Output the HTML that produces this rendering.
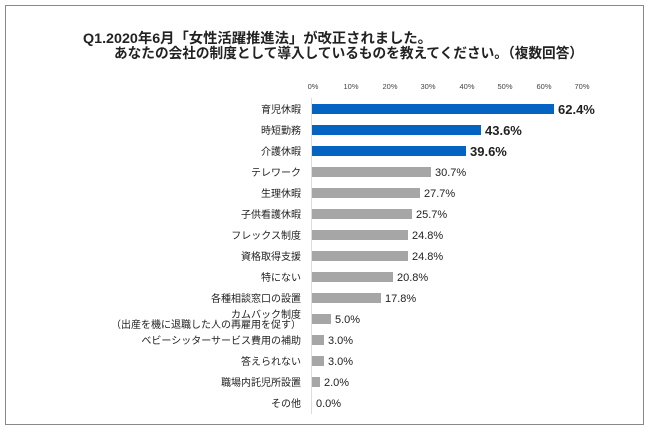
<!DOCTYPE html>
<html><head><meta charset="utf-8"><style>
body{margin:0;background:#fff;}
svg{display:block;font-family:"Liberation Sans","Noto Sans CJK JP",sans-serif;}
</style></head><body>
<svg width="650" height="431" viewBox="0 0 650 431" xmlns="http://www.w3.org/2000/svg">
<rect x="5.5" y="5.5" width="638" height="419" fill="#fff" stroke="#888" stroke-width="1"/>
<text x="83" y="43" font-size="14" font-weight="bold" fill="#222" textLength="349" lengthAdjust="spacingAndGlyphs">Q1.2020年6月「女性活躍推進法」が改正されました。</text>
<text x="114" y="58" font-size="14" font-weight="bold" fill="#222" textLength="469" lengthAdjust="spacingAndGlyphs">あなたの会社の制度として導入しているものを教えてください。（複数回答）</text>
<g font-size="7.5" fill="#444" text-anchor="middle">
<text x="313" y="89">0%</text><text x="351" y="89">10%</text><text x="390" y="89">20%</text><text x="428" y="89">30%</text><text x="467" y="89">40%</text><text x="505" y="89">50%</text><text x="544" y="89">60%</text><text x="582" y="89">70%</text>
</g>
<line x1="311.5" y1="98" x2="311.5" y2="414" stroke="#ddd" stroke-width="1"/>
<g font-size="10" fill="#222" text-anchor="end">
<text x="301" y="113">育児休暇</text>
<text x="301" y="134">時短勤務</text>
<text x="301" y="155">介護休暇</text>
<text x="301" y="176">テレワーク</text>
<text x="301" y="197">生理休暇</text>
<text x="301" y="218">子供看護休暇</text>
<text x="301" y="239">フレックス制度</text>
<text x="301" y="260">資格取得支援</text>
<text x="301" y="281">特にない</text>
<text x="301" y="302">各種相談窓口の設置</text>
<text x="301" y="318">カムバック制度</text>
<text x="301" y="328">（出産を機に退職した人の再雇用を促す）</text>
<text x="301" y="344">ベビーシッターサービス費用の補助</text>
<text x="301" y="365">答えられない</text>
<text x="301" y="386">職場内託児所設置</text>
<text x="301" y="407">その他</text>
</g>
<g fill="#0563c1">
<rect x="312" y="104" width="242" height="10"/>
<rect x="312" y="125" width="169" height="10"/>
<rect x="312" y="146" width="154" height="10"/>
</g>
<g fill="#a6a6a6">
<rect x="312" y="167" width="119" height="10"/>
<rect x="312" y="188" width="108" height="10"/>
<rect x="312" y="209" width="100" height="10"/>
<rect x="312" y="230" width="96" height="10"/>
<rect x="312" y="251" width="96" height="10"/>
<rect x="312" y="272" width="81" height="10"/>
<rect x="312" y="293" width="69" height="10"/>
<rect x="312" y="314" width="19" height="10"/>
<rect x="312" y="335" width="12" height="10"/>
<rect x="312" y="356" width="12" height="10"/>
<rect x="312" y="377" width="8" height="10"/>
</g>
<g font-size="13" font-weight="bold" fill="#222">
<text x="558" y="114">62.4%</text>
<text x="485" y="135">43.6%</text>
<text x="470" y="156">39.6%</text>
</g>
<g font-size="11" fill="#222">
<text x="435" y="176">30.7%</text>
<text x="424" y="197">27.7%</text>
<text x="416" y="218">25.7%</text>
<text x="412" y="239">24.8%</text>
<text x="412" y="260">24.8%</text>
<text x="397" y="281">20.8%</text>
<text x="385" y="302">17.8%</text>
<text x="335" y="323">5.0%</text>
<text x="328" y="344">3.0%</text>
<text x="328" y="365">3.0%</text>
<text x="324" y="386">2.0%</text>
<text x="316" y="407">0.0%</text>
</g>
</svg>
</body></html>
